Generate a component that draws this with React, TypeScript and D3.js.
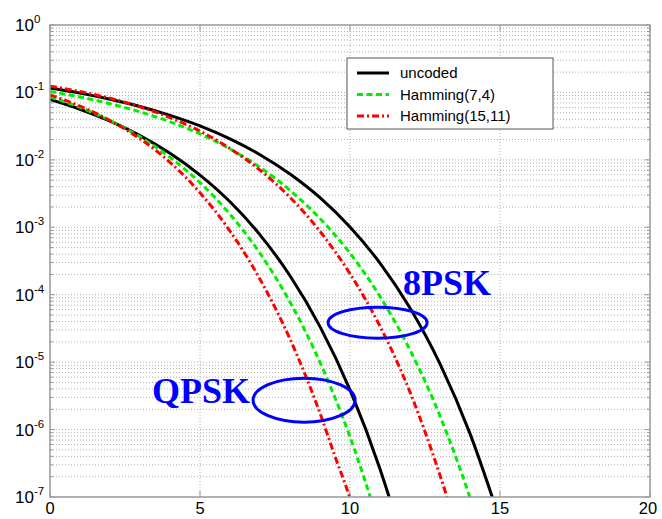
import React from "react";
import * as d3 from "d3";

// Eb/N0 (dB) and BER values
const qpskUncodedX = [0, 1, 2, 3, 4, 5, 6, 7, 8, 9, 10, 11, 11.5];
const qpskUncodedY = [7.86e-2, 5.63e-2, 3.75e-2, 2.29e-2, 1.25e-2, 5.95e-3, 2.39e-3, 7.73e-4, 1.91e-4, 3.36e-5, 3.87e-6, 2.61e-7, 5.3e-8];

const qpskH74X = [0, 1, 2, 3, 4, 5, 6, 7, 8, 9, 10, 10.5, 11];
const qpskH74Y = [0.0859, 0.06, 0.0383, 0.0219, 0.0109, 0.0046, 0.00156, 4.11e-4, 7.79e-5, 9.95e-6, 7.78e-7, 1.75e-7, 3.29e-8];

const qpskH1511X = [0, 1, 2, 3, 4, 5, 6, 7, 8, 9, 9.5, 10, 10.5];
const qpskH1511Y = [0.0919, 0.0628, 0.0383, 0.0205, 0.0092, 0.00325, 8.8e-4, 1.7e-4, 2.2e-5, 1.75e-6, 4.0e-7, 9.5e-8, 1.4e-8];

const psk8UncodedX = [0, 1, 2, 3, 4, 5, 6, 7, 8, 9, 10, 11, 12, 13, 14, 15];
const psk8UncodedY = [0.1163, 0.0976, 0.0793, 0.0619, 0.0457, 0.0319, 0.02047, 0.01193, 0.00617, 0.00275, 0.00101, 2.94e-4, 6.33e-5, 9.4e-6, 8.7e-7, 4.5e-8];

const psk8H74X = [0, 1, 2, 3, 4, 5, 6, 7, 8, 9, 10, 11, 12, 13, 14, 14.5];
const psk8H74Y = [0.1033, 0.0855, 0.0681, 0.0515, 0.0367, 0.0242, 0.01451, 0.00773, 0.00353, 0.001347, 4.12e-4, 9.41e-5, 1.516e-5, 1.589e-6, 9.72e-8, 1.9e-8];

const psk8H1511X = [0, 1, 2, 3, 4, 5, 6, 7, 8, 9, 10, 11, 12, 13, 13.5];
const psk8H1511Y = [0.1239, 0.1029, 0.0818, 0.0611, 0.0423, 0.0267, 0.01474, 0.00705, 0.00278, 8.7e-4, 2.05e-4, 3.4e-5, 3.6e-6, 2.1e-7, 4.2e-8];

const xTicks = [0, 5, 10, 15, 20];
const yExponents = [0, -1, -2, -3, -4, -5, -6, -7];
const legendLabels = ["uncoded", "Hamming(7,4)", "Hamming(15,11)"];
const annotations = [
  { label: "QPSK", tx: 3.4, ty: Math.pow(10, -5.6), ex: 8.47, ey: Math.pow(10, -5.564), rx: 51, ry: 22 },
  { label: "8PSK", tx: 11.77, ty: Math.pow(10, -4.01), ex: 10.92, ey: Math.pow(10, -4.414), rx: 49.5, ry: 15.5 },
];

const W = 662;
const H = 519;
const L = 50, R = 650, T = 25, B = 497;

export default function App() {
  const x = d3.scaleLinear().domain([0, 20]).range([L, R]);
  const y = d3.scaleLog().domain([1e-7, 1]).range([B, T]);

  const line = (xs: number[], ys: number[]) =>
    d3.line<number>()
      .x((_, i) => x(xs[i]))
      .y((_, i) => y(ys[i]))
      .curve(d3.curveMonotoneX)(ys) || "";

  const styles = [
    { color: "#000000", dash: undefined as string | undefined },
    { color: "#00ee00", dash: "6,3.5" },
    { color: "#ff0000", dash: "7,3,2,3" },
  ];

  const series = [
    { xs: qpskUncodedX, ys: qpskUncodedY, s: 0 },
    { xs: psk8UncodedX, ys: psk8UncodedY, s: 0 },
    { xs: qpskH74X, ys: qpskH74Y, s: 1 },
    { xs: psk8H74X, ys: psk8H74Y, s: 1 },
    { xs: qpskH1511X, ys: qpskH1511Y, s: 2 },
    { xs: psk8H1511X, ys: psk8H1511Y, s: 2 },
  ];

  const minorVals: number[] = [];
  for (let e = -7; e < 0; e++) {
    for (let m = 2; m <= 9; m++) minorVals.push(m * Math.pow(10, e));
  }
  const majorVals = yExponents.map((e) => Math.pow(10, e));

  const gridColor = "#b0b0b0";
  const frameColor = "#999999";

  return (
    <svg width={W} height={H} style={{ position: "absolute", left: 0, top: 0, background: "#fff" }}
      fontFamily="Liberation Sans, Arial, sans-serif">
      <defs>
        <clipPath id="plotclip">
          <rect x={L} y={T} width={R - L} height={B - T} />
        </clipPath>
      </defs>
      {/* grid */}
      {[...minorVals, ...majorVals].filter((v) => v < 1 && v > 1e-7).map((v, i) => (
        <line key={"hg" + i} x1={L} x2={R} y1={y(v)} y2={y(v)} stroke={gridColor} strokeWidth={1} strokeDasharray="1,2" />
      ))}
      {xTicks.filter((t) => t > 0 && t < 20).map((t) => (
        <line key={"vg" + t} x1={x(t)} x2={x(t)} y1={T} y2={B} stroke={gridColor} strokeWidth={1} strokeDasharray="1,2" />
      ))}
      {/* ticks */}
      {[...minorVals, ...majorVals].map((v, i) => {
        const major = majorVals.includes(v);
        const len = major ? 5 : 3;
        return (
          <g key={"yt" + i}>
            <line x1={L} x2={L + len} y1={y(v)} y2={y(v)} stroke={frameColor} strokeWidth={1} />
            <line x1={R} x2={R - len} y1={y(v)} y2={y(v)} stroke={frameColor} strokeWidth={1} />
          </g>
        );
      })}
      {xTicks.map((t) => (
        <g key={"xt" + t}>
          <line x1={x(t)} x2={x(t)} y1={B} y2={B - 6} stroke={frameColor} strokeWidth={1} />
          <line x1={x(t)} x2={x(t)} y1={T} y2={T + 6} stroke={frameColor} strokeWidth={1} />
        </g>
      ))}
      {/* curves */}
      <g clipPath="url(#plotclip)">
        {series.map((se, i) => (
          <path key={"c" + i} d={line(se.xs, se.ys)} fill="none" stroke={styles[se.s].color}
            strokeWidth={3} strokeDasharray={styles[se.s].dash} />
        ))}
      </g>
      {/* frame */}
      <rect x={L} y={T} width={R - L} height={B - T} fill="none" stroke={frameColor} strokeWidth={1.5} />
      {/* axis labels */}
      {xTicks.map((t) => (
        <text key={"xl" + t} x={x(t) - (t === 20 ? 2 : 0)} y={514} textAnchor="middle" fontSize={16.5} fill="#000">{t}</text>
      ))}
      {yExponents.map((e) => (
        <text key={"yl" + e} x={15} y={y(Math.pow(10, e)) + 6} fontSize={17} fill="#000">
          10<tspan fontSize={11.5} dy={-8}>{e}</tspan>
        </text>
      ))}
      {/* legend */}
      <g>
        <rect x={347} y={58} width={206} height={71} fill="#fff" stroke="#555" strokeWidth={1} />
        {legendLabels.map((lab, i) => {
          const ly = 73 + i * 21.5;
          return (
            <g key={"lg" + i}>
              <line x1={357} x2={389} y1={ly} y2={ly} stroke={styles[i].color} strokeWidth={3} strokeDasharray={styles[i].dash} />
              <text x={400} y={ly + 5} fontSize={15} fill="#000">{lab}</text>
            </g>
          );
        })}
      </g>
      {/* annotations */}
      {annotations.map((a) => (
        <g key={a.label}>
          <ellipse cx={x(a.ex)} cy={y(a.ey)} rx={a.rx} ry={a.ry} fill="none" stroke="#0000ff" strokeWidth={3} />
          <text x={x(a.tx)} y={y(a.ty)} fontFamily="Liberation Serif, Times New Roman, serif" fontWeight="bold"
            fontSize={36} fill="#0000ff">{a.label}</text>
        </g>
      ))}
    </svg>
  );
}
